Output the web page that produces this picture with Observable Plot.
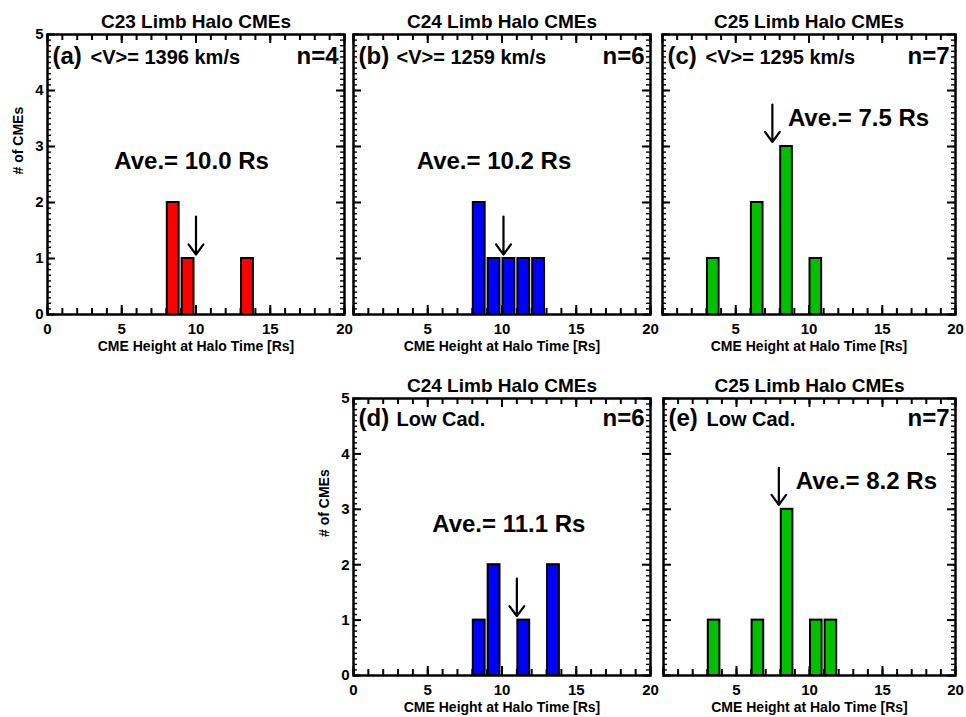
<!DOCTYPE html>
<html><head><meta charset="utf-8">
<script src="https://cdn.jsdelivr.net/npm/d3@7"></script>
<script src="https://cdn.jsdelivr.net/npm/@observablehq/plot@0.6"></script>
<style>
body{margin:0;background:#fff;}
#wrap{position:relative;width:966px;height:717px;background:#fff;overflow:hidden;}
#wrap svg{position:absolute;overflow:visible;}
</style></head><body><div id="wrap"></div>
<script>
// ---- data ----
const panelIds = ["a", "b", "c", "d", "e"];
const titles = ["C23 Limb Halo CMEs", "C24 Limb Halo CMEs", "C25 Limb Halo CMEs", "C24 Limb Halo CMEs", "C25 Limb Halo CMEs"];
const subtitles = ["<V>= 1396 km/s", "<V>= 1259 km/s", "<V>= 1295 km/s", "Low Cad.", "Low Cad."];
const nEvents = [4, 6, 7, 6, 7];
const averages = [10.0, 10.2, 7.5, 11.1, 8.2];
const binsA = [8, 9, 13];          const countsA = [2, 1, 1];
const binsB = [8, 9, 10, 11, 12];  const countsB = [2, 1, 1, 1, 1];
const binsC = [3, 6, 8, 10];       const countsC = [1, 2, 3, 1];
const binsD = [8, 9, 11, 13];      const countsD = [1, 2, 1, 2];
const binsE = [3, 6, 8, 10, 11];   const countsE = [1, 1, 3, 1, 1];
const arrowX = [10.0, 10.1, 7.5, 11.0, 7.9];
const arrowTop = [1.75, 1.75, 3.75, 1.75, 3.75];
const arrowTip = [1.07, 1.07, 3.08, 1.07, 3.08];
const xMajor = [0, 5, 10, 15, 20];
const xLabelsLeft = [0, 5, 10, 15, 20];
const xLabelsOther = [5, 10, 15, 20];
const yMajor = [0, 1, 2, 3, 4, 5];
const xMinor = d3.range(0, 21, 1);
const yMinor = d3.range(0, 5.001, 0.1);
const binWidth = 1;

const bins = [binsA, binsB, binsC, binsD, binsE];
const counts = [countsA, countsB, countsC, countsD, countsE];
const colors = ["#ff0000", "#0000ff", "#00c000", "#0000ff", "#00c000"];

// ---- layout ----
const layout = [
  {left: 0,   top: 0,   w: 350, h: 360, ml: 47, mr: 6,  mt: 34, mb: 46, yLabels: true,  aveX: 9.7,  aveY: 2.74, aveAnchor: "middle", tagDy: 29},
  {left: 348, top: 0,   w: 310, h: 360, ml: 5,  mr: 8,  mt: 34, mb: 46, yLabels: false, aveX: 9.46, aveY: 2.74, aveAnchor: "middle", tagDy: 29},
  {left: 655, top: 0,   w: 311, h: 360, ml: 7,  mr: 11, mt: 34, mb: 46, yLabels: false, aveX: 8.56, aveY: 3.51, aveAnchor: "start",  tagDy: 29},
  {left: 348, top: 360, w: 310, h: 357, ml: 5,  mr: 8,  mt: 38, mb: 42, yLabels: true,  aveX: 10.46, aveY: 2.73, aveAnchor: "middle", tagDy: 27},
  {left: 655, top: 360, w: 311, h: 357, ml: 8,  mr: 11, mt: 38, mb: 42, yLabels: false, aveX: 9.06, aveY: 3.5,  aveAnchor: "start",  tagDy: 27}
];

const FONT = "'Liberation Sans', Arial, Helvetica, sans-serif";
const X0 = 0, X1 = 20, Y0 = 0, Y1 = 5;

// inward ticks on all four sides; pixel lengths converted to data units
function inwardTicks(W, H) {
  const py = px => px * (Y1 - Y0) / H;
  const pxx = px => px * (X1 - X0) / W;
  const s = {stroke: "black"};
  return [
    Plot.ruleX(xMinor, {x: d => d, y1: () => Y0, y2: () => Y0 + py(6), strokeWidth: 2, ...s}),
    Plot.ruleX(xMinor, {x: d => d, y1: () => Y1, y2: () => Y1 - py(6), strokeWidth: 2, ...s}),
    Plot.ruleX(xMajor, {x: d => d, y1: () => Y0, y2: () => Y0 + py(9), strokeWidth: 2, ...s}),
    Plot.ruleX(xMajor, {x: d => d, y1: () => Y1, y2: () => Y1 - py(9), strokeWidth: 2, ...s}),
    Plot.ruleY(yMinor, {y: d => d, x1: () => X0, x2: () => X0 + pxx(4), strokeWidth: 1.4, ...s}),
    Plot.ruleY(yMinor, {y: d => d, x1: () => X1, x2: () => X1 - pxx(4), strokeWidth: 1.4, ...s}),
    Plot.ruleY(yMajor, {y: d => d, x1: () => X0, x2: () => X0 + pxx(8), strokeWidth: 2, ...s}),
    Plot.ruleY(yMajor, {y: d => d, x1: () => X1, x2: () => X1 - pxx(8), strokeWidth: 2, ...s})
  ];
}

function panel(i) {
  const L = layout[i];
  const W = L.w - L.ml - L.mr, H = L.h - L.mt - L.mb;
  const bars = bins[i].map((b, j) => ({x1: b, x2: b + binWidth, y: counts[i][j]}));
  const one = [0];
  const marks = [
    Plot.rectY(bars, {x1: "x1", x2: "x2", y: "y", fill: colors[i], stroke: "black", strokeWidth: 2, insetLeft: 1, insetRight: 2}),
    ...inwardTicks(W, H),
    Plot.axisX({anchor: "bottom", ticks: L.yLabels ? xLabelsLeft : xLabelsOther, tickSize: 0, tickPadding: 9, tickFormat: d3.format("d"), fontSize: 15, fontWeight: "bold", label: null}),
    Plot.frame({stroke: "black", strokeWidth: 2.5}),
    Plot.text(one, {frameAnchor: "top", text: () => titles[i], dy: -7, lineAnchor: "bottom", fontSize: 19, fontWeight: "bold"}),
    Plot.text(one, {frameAnchor: "bottom", text: () => "CME Height at Halo Time [Rs]", dy: 36, lineAnchor: "bottom", fontSize: 14, fontWeight: "bold"}),
    Plot.text(one, {frameAnchor: "top-left", text: () => `(${panelIds[i]})`, dx: 5, dy: L.tagDy, textAnchor: "start", lineAnchor: "bottom", fontSize: 24, fontWeight: "bold"}),
    Plot.text(one, {frameAnchor: "top-left", text: () => subtitles[i], dx: 43, dy: L.tagDy, textAnchor: "start", lineAnchor: "bottom", fontSize: 20, fontWeight: "bold"}),
    Plot.text(one, {frameAnchor: "top-right", text: () => `n=${nEvents[i]}`, dx: -6, dy: L.tagDy, textAnchor: "end", lineAnchor: "bottom", fontSize: 24, fontWeight: "bold"}),
    Plot.text([averages[i]], {x: () => L.aveX, y: () => L.aveY, text: d => `Ave.= ${d.toFixed(1)} Rs`, textAnchor: L.aveAnchor, lineAnchor: "middle", fontSize: 24, fontWeight: "bold"}),
    Plot.arrow(one, {x1: () => arrowX[i], x2: () => arrowX[i], y1: () => arrowTop[i], y2: () => arrowTip[i], stroke: "black", strokeWidth: 2.2, headLength: 10, headAngle: 72})
  ];
  if (L.yLabels) {
    marks.push(Plot.axisY({anchor: "left", ticks: yMajor, tickSize: 0, tickPadding: 4, tickFormat: d3.format("d"), fontSize: 15, fontWeight: "bold", label: null}));
    marks.push(Plot.text(one, {frameAnchor: "left", text: () => "# of CMEs", rotate: -90, dx: -29, fontSize: 14, fontWeight: "bold"}));
  }
  const svg = Plot.plot({
    width: L.w, height: L.h,
    marginLeft: L.ml, marginRight: L.mr, marginTop: L.mt, marginBottom: L.mb,
    x: {domain: [X0, X1]},
    y: {domain: [Y0, Y1], axis: L.yLabels ? undefined : null},
    style: {background: "transparent", overflow: "visible", fontFamily: FONT, color: "black", fontSize: "15px"},
    marks
  });
  svg.style.left = L.left + "px";
  svg.style.top = L.top + "px";
  svg.style.position = "absolute";
  return svg;
}

const wrap = document.getElementById("wrap");
panelIds.forEach((id, i) => wrap.appendChild(panel(i)));
</script>
</body></html>
